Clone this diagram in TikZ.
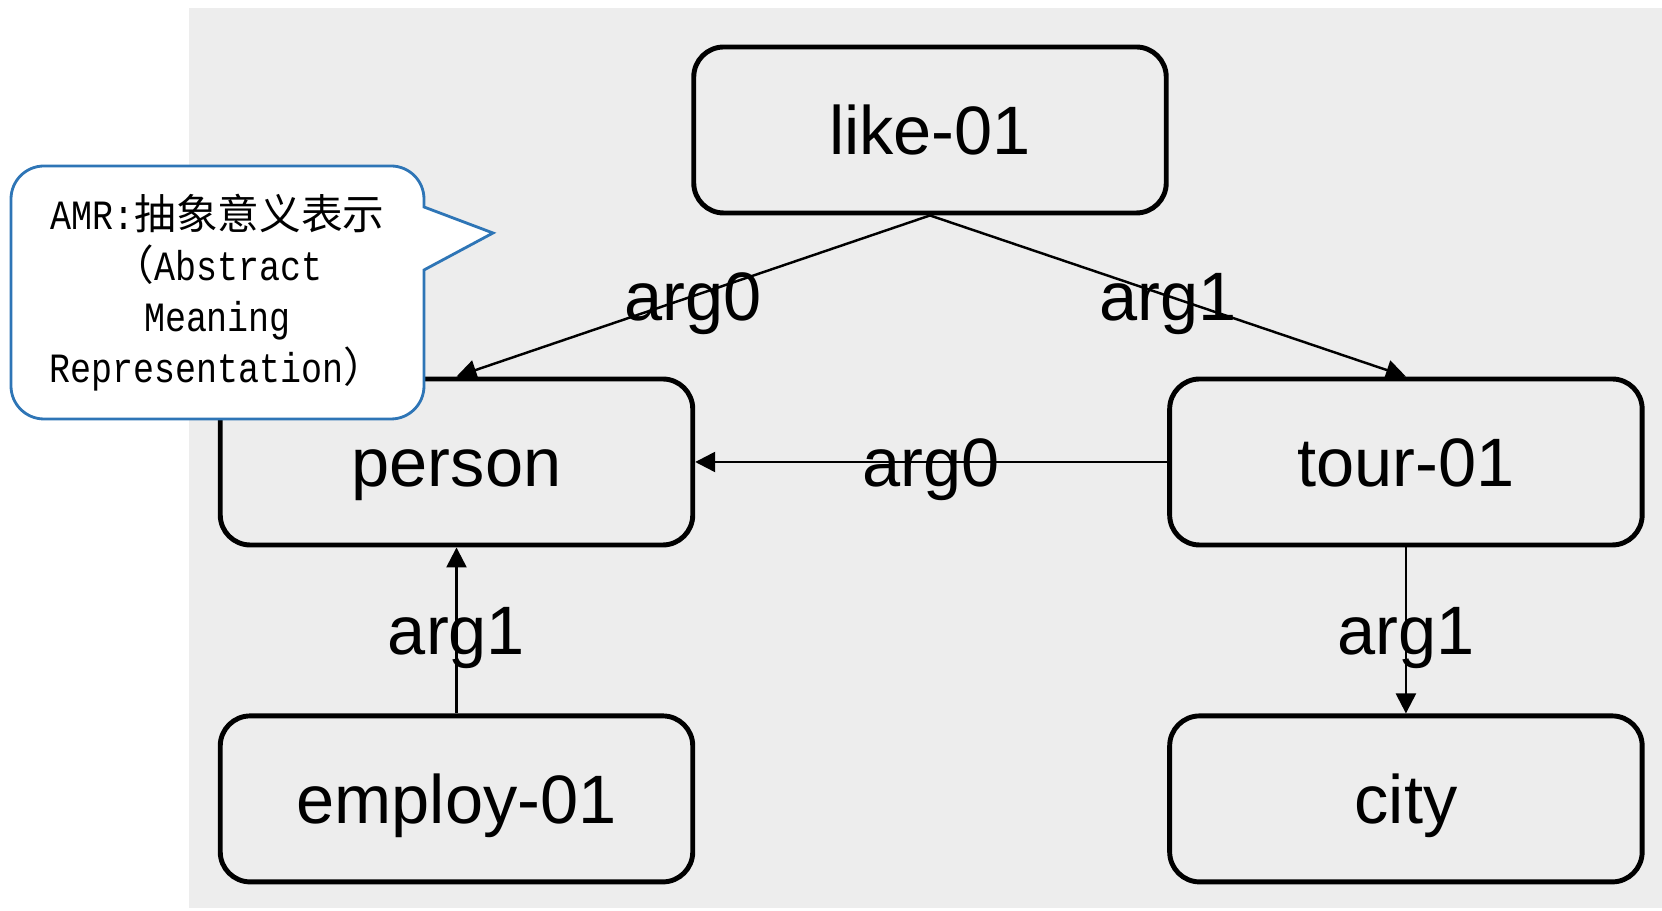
\documentclass[tikz,border=0pt]{standalone}
\usepackage{fontspec}
\setmainfont{Liberation Sans}
\newfontfamily\calloutfont[FakeStretch=0.84]{Liberation Mono}
\newfontfamily\cjk{Noto Sans CJK SC}
\usetikzlibrary{positioning,arrows.meta}
\definecolor{panelgray}{RGB}{237,237,237}
\definecolor{calloutblue}{RGB}{46,117,182}
\begin{document}
\begin{tikzpicture}[
  concept/.style={draw, line width=2.8pt, rounded corners=0.6cm,
    minimum width=9.45cm, minimum height=3.32cm,
    font=\fontsize{39}{47}\selectfont, text height=0.98cm, text depth=0pt},
  relation/.style={line width=1.4pt, -{Triangle[length=0.4cm,width=0.4cm]}},
  rolelabel/.style={font=\fontsize{39}{47}\selectfont, inner sep=0pt,
    text height=0.98cm, text depth=0pt},
  callout/.style={draw=calloutblue, line width=1.6pt, fill=white}]
  \useasboundingbox (0,0) rectangle (33.24,18.22);
  \fill[panelgray] (3.78,0.06) rectangle (33.24,18.05);

  % concept nodes
  \node[concept] (like) at (18.6,15.62) {like-01};
  \node[concept] (person) at (9.13,8.98) {person};
  \node[concept, right=9.44cm of person] (tour) {tour-01};
  \node[concept, below=3.32cm of person] (employ) {employ-01};
  \node[concept, below=3.32cm of tour] (city) {city};

  % relations
  \draw[relation] (like.south) -- node[rolelabel] {arg0} (person.north);
  \draw[relation] (like.south) -- node[rolelabel] {arg1} (tour.north);
  \draw[relation] (tour.west) -- node[rolelabel] {arg0} (person.east);
  \draw[relation] (employ.north) -- node[rolelabel] {arg1} (person.south);
  \draw[relation] (tour.south) -- node[rolelabel] {arg1} (city.north);

  % note bubble
  \draw[callout] (8.48,14.08) [rounded corners=0.66cm] -- (8.48,14.9)
    -- (0.22,14.9) -- (0.22,9.84) -- (8.48,9.84) [sharp corners]
    -- (8.48,12.82) -- (9.86,13.56) -- cycle;
  \node[align=center, inner sep=0pt,
    font=\calloutfont\fontsize{23.7}{29}\selectfont] (amr) at (4.35,12.37)
    {AMR:{\cjk 抽象意义表示}\\{\cjk （}Abstract\\Meaning\\Representation{\cjk ）}};
\end{tikzpicture}
\end{document}
